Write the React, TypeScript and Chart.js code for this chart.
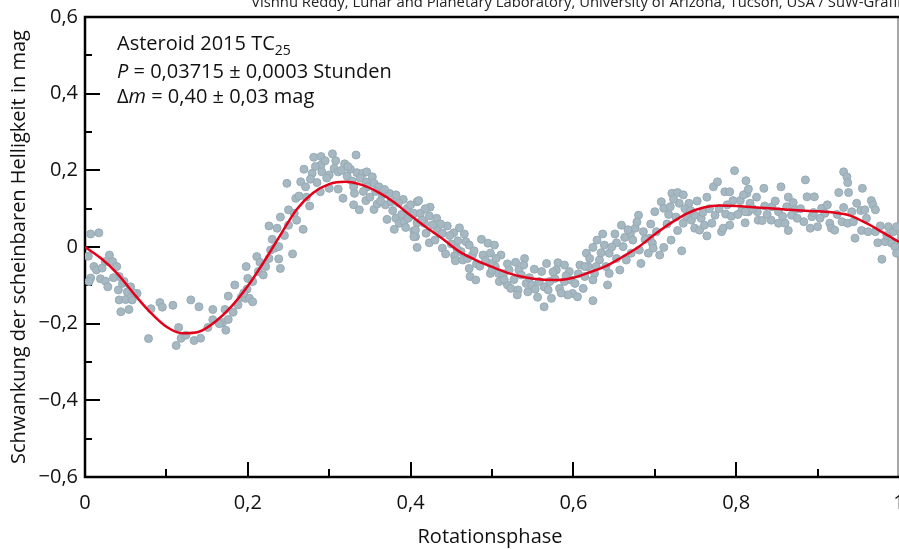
import { useEffect, useRef } from "react";
import { Chart, registerables } from "chart.js";

Chart.register(...registerables);

// Measured points: rotation phase and brightness variation (mag)
const phase = [
  0.007, 0.017, 0.004, 0.011, 0.014, 0.007, 0.005, 0.03, 0.025, 0.034, 0.021, 0.039, 0.019, 0.025, 0.028, 0.042, 0.046, 0.041, 0.056, 0.052,
  0.064, 0.042, 0.05, 0.058, 0.044, 0.054, 0.081, 0.092, 0.095, 0.108, 0.078, 0.115, 0.118, 0.112, 0.124, 0.13, 0.14, 0.134, 0.142, 0.151,
  0.157, 0.157, 0.169, 0.173, 0.176, 0.172, 0.176, 0.184, 0.188, 0.192, 0.199, 0.197, 0.202, 0.198, 0.2, 0.206, 0.206,
  0.211, 0.213, 0.219, 0.222, 0.226, 0.228, 0.233, 0.238, 0.238, 0.24, 0.255, 0.226, 0.236, 0.24, 0.25, 0.25, 0.257, 0.259, 0.263, 0.248,
  0.268, 0.276, 0.269, 0.265, 0.271, 0.279, 0.281, 0.29, 0.29, 0.304, 0.291, 0.277, 0.285, 0.289, 0.3, 0.306, 0.311, 0.3, 0.311, 0.319,
  0.322, 0.317, 0.326, 0.333, 0.334, 0.33, 0.331, 0.33, 0.337, 0.341, 0.346, 0.345, 0.353, 0.347, 0.345, 0.355, 0.361, 0.355, 0.359, 0.369,
  0.365, 0.374, 0.382, 0.391, 0.371, 0.382, 0.386, 0.38, 0.392, 0.394, 0.396, 0.402, 0.404, 0.406, 0.408, 0.408, 0.408,
  0.41, 0.424, 0.404, 0.412, 0.423, 0.417, 0.406, 0.404, 0.419, 0.423, 0.433, 0.445, 0.439, 0.43, 0.439, 0.443, 0.453, 0.458, 0.466, 0.468,
  0.472, 0.454, 0.455, 0.464, 0.462, 0.476, 0.487, 0.495, 0.503, 0.489, 0.498, 0.504, 0.472, 0.473, 0.48, 0.481, 0.498, 0.498, 0.511, 0.519,
  0.521, 0.508, 0.514, 0.509, 0.519, 0.523, 0.532, 0.531, 0.533, 0.54, 0.539, 0.536, 0.542, 0.544, 0.549, 0.552, 0.556, 0.561, 0.567, 0.564,
  0.569, 0.573, 0.564, 0.581, 0.579, 0.577, 0.583, 0.589, 0.589, 0.595, 0.597, 0.599, 0.593, 0.608, 0.605, 0.612, 0.614, 0.616, 0.618,
  0.624, 0.629, 0.636, 0.651, 0.659, 0.653, 0.644, 0.632, 0.614, 0.626, 0.624, 0.628, 0.64, 0.644, 0.642, 0.657, 0.653, 0.665, 0.671, 0.67,
  0.676, 0.68, 0.673, 0.661, 0.681, 0.683, 0.692, 0.694, 0.686, 0.695, 0.697, 0.698, 0.706, 0.711, 0.7, 0.708, 0.711, 0.721, 0.719, 0.72,
  0.726, 0.728, 0.73, 0.735, 0.733, 0.728, 0.735, 0.739, 0.742, 0.745, 0.749, 0.749, 0.755, 0.757, 0.764, 0.764, 0.761, 0.77, 0.774, 0.772,
  0.777, 0.782, 0.784, 0.786, 0.792, 0.792, 0.787, 0.798, 0.796, 0.805, 0.811, 0.812, 0.813, 0.815, 0.807, 0.624,
  0.809, 0.815, 0.817, 0.811, 0.825, 0.826, 0.827, 0.834, 0.835, 0.832, 0.843, 0.844, 0.852, 0.852, 0.855, 0.86, 0.864, 0.864, 0.862, 0.87,
  0.872, 0.868, 0.883, 0.885, 0.887, 0.891, 0.893, 0.896, 0.9, 0.905, 0.909, 0.915, 0.917, 0.921, 0.926, 0.932, 0.936, 0.937, 0.938, 0.932,
  0.93, 0.937, 0.942, 0.944, 0.946, 0.948, 0.955, 0.953, 0.954, 0.958, 0.962, 0.966, 0.968, 0.971, 0.971, 0.974, 0.977, 0.979, 0.983, 0.987,
  0.991, 0.993, 0.995, 0.997, 0.997,
  0.283, 0.295, 0.297, 0.308, 0.315, 0.323, 0.328, 0.338, 0.342, 0.35, 0.357, 0.363, 0.368, 0.376, 0.378, 0.385, 0.389, 0.397, 0.4, 0.414,
  0.418, 0.427, 0.432, 0.437, 0.448, 0.45, 0.457, 0.46, 0.47, 0.478, 0.485, 0.492, 0.5, 0.505, 0.515, 0.527, 0.529, 0.546, 0.553, 0.558,
  0.571, 0.575, 0.585, 0.591, 0.602, 0.606, 0.62, 0.634, 0.638, 0.647, 0.663, 0.667, 0.678, 0.688, 0.702, 0.715, 0.717, 0.723, 0.737, 0.744,
  0.752, 0.759, 0.767, 0.779, 0.789, 0.794, 0.802, 0.82, 0.838, 0.848, 0.857, 0.875, 0.879, 0.895, 0.903, 0.912, 0.924, 0.96, 0.985, 0.035,
  0.048, 0.06, 0.165, 0.182, 0.195, 0.215, 0.23, 0.245, 0.26, 0.272,
];
const mag = [
  0.034, 0.037, -0.024, -0.051, -0.06, -0.081, -0.09, -0.021, -0.038, -0.038, -0.055, -0.051, -0.083, -0.089, -0.104, -0.077, -0.095, -0.112, -0.104, -0.117,
  -0.121, -0.138, -0.137, -0.138, -0.169, -0.163, -0.161, -0.145, -0.157, -0.152, -0.239, -0.21, -0.238, -0.257, -0.23, -0.138, -0.156, -0.244, -0.238, -0.21,
  -0.163, -0.19, -0.197, -0.217, -0.189, -0.163, -0.128, -0.099, -0.151, -0.131, -0.11, -0.134, -0.134, -0.051, -0.082, -0.143, -0.09,
  -0.025, -0.064, -0.073, -0.051, -0.03, -0.008, -0.003, 0.001, -0.031, -0.056, -0.018, 0.055, 0.049, 0.078, 0.097, 0.057, 0.088, 0.127, 0.133, 0.166,
  0.046, 0.107, 0.203, 0.17, 0.157, 0.192, 0.234, 0.236, 0.214, 0.243, 0.196, 0.177, 0.168, 0.144, 0.188, 0.205, 0.196, 0.153, 0.151, 0.217,
  0.185, 0.127, 0.203, 0.24, 0.194, 0.157, 0.14, 0.11, 0.097, 0.192, 0.196, 0.17, 0.183, 0.157, 0.121, 0.166, 0.157, 0.098, 0.112, 0.11,
  0.136, 0.14, 0.136, 0.124, 0.072, 0.075, 0.062, 0.046, 0.066, 0.051, 0.101, 0.083, 0.042, 0.027, -0.001, 0.118, 0.063,
  0.121, 0.104, 0.088, 0.088, 0.081, 0.062, 0.044, 0.027, 0.036, 0.011, 0.046, 0.055, 0.036, 0.018, -0.003, -0.018, 0.037, 0.016, 0.034, 0.014,
  0.005, -0.023, -0.036, -0.034, -0.012, -0.021, 0.02, 0.01, 0.005, -0.021, -0.016, -0.051, -0.056, -0.077, -0.086, -0.044, -0.043, -0.069, -0.021, -0.044,
  -0.06, -0.069, -0.07, -0.09, -0.099, -0.108, -0.112, -0.125, -0.06, -0.03, -0.047, -0.073, -0.095, -0.117, -0.099, -0.058, -0.131, -0.064, -0.043, -0.104,
  -0.112, -0.134, -0.156, -0.041, -0.06, -0.082, -0.108, -0.09, -0.047, -0.064, -0.086, -0.121, -0.125, -0.047, -0.13, -0.108, -0.077, -0.016, -0.051,
  -0.001, 0.018, 0.034, 0.034, 0.057, 0.011, -0.016, -0.034, -0.051, -0.069, -0.086, -0.051, -0.051, -0.069, -0.099, -0.06, -0.03, -0.034, -0.016, 0.034,
  0.049, 0.083, 0.018, 0.001, -0.008, -0.043, -0.016, 0.023, 0.04, 0.06, 0.01, -0.003, -0.021, -0.001, 0.092, 0.118, 0.101, 0.14, 0.105, 0.018,
  0.078, 0.142, 0.114, 0.136, -0.01, 0.043, 0.062, 0.079, 0.114, 0.07, 0.049, 0.083, 0.044, 0.075, 0.13, 0.029, 0.057, 0.062, 0.083, 0.157,
  0.17, 0.04, 0.049, 0.144, 0.144, 0.057, 0.086, 0.199, 0.121, 0.121, 0.063, 0.173, 0.14, 0.092, 0.097, -0.14,
  0.136, 0.151, 0.114, 0.092, 0.13, 0.092, 0.07, 0.153, 0.107, 0.069, 0.07, 0.105, 0.092, 0.062, 0.157, 0.062, 0.13, 0.043, 0.105, 0.116,
  0.097, 0.083, 0.066, 0.175, 0.131, 0.049, 0.079, 0.131, 0.053, 0.101, 0.088, 0.062, 0.049, 0.044, 0.142, 0.196, 0.183, 0.168, 0.142, 0.103,
  0.066, 0.062, 0.092, 0.066, 0.023, 0.114, 0.153, 0.095, 0.043, 0.097, 0.04, 0.121, 0.11, 0.097, 0.04, 0.011, 0.055, -0.032, 0.014, 0.053,
  0.01, 0.04, 0.001, -0.016, 0.053,
  0.21, 0.225, 0.18, 0.225, 0.2, 0.21, 0.172, 0.18, 0.145, 0.13, 0.145, 0.12, 0.15, 0.118, 0.095, 0.115, 0.085, 0.075, 0.11, 0.07,
  0.1, 0.058, 0.075, 0.06, 0.03, 0.008, -0.005, 0.05, -0.03, -0.01, -0.05, -0.035, -0.06, -0.03, -0.085, -0.085, -0.04, -0.08, -0.11, -0.09,
  -0.09, -0.065, -0.12, -0.075, -0.095, -0.07, -0.03, -0.015, 0.005, 0.0, 0.025, 0.045, 0.065, 0.02, 0.04, 0.06, 0.085, 0.125, 0.1, 0.095,
  0.12, 0.09, 0.1, 0.1, 0.11, 0.08, 0.085, 0.1, 0.085, 0.12, 0.08, 0.075, 0.1, 0.09, 0.075, 0.11, 0.085, 0.075, 0.03, -0.08,
  -0.09, -0.12, -0.2, -0.17, -0.12, -0.04, 0.02, 0.03, 0.07, 0.13,
];

// Fitted light curve
const fitPhase = [
  0, 0.02, 0.04, 0.06, 0.08, 0.1, 0.12, 0.14, 0.16, 0.18, 0.2, 0.22, 0.24, 0.26, 0.28, 0.3, 0.32, 0.34, 0.36, 0.38,
  0.4, 0.42, 0.44, 0.46, 0.48, 0.5, 0.52, 0.54, 0.56, 0.58, 0.6, 0.62, 0.64, 0.66, 0.68, 0.7, 0.72, 0.74, 0.76, 0.78,
  0.8, 0.82, 0.84, 0.86, 0.88, 0.9, 0.92, 0.94, 0.96, 0.98, 1.0,
];
const fitMag = [
  0.0, -0.03, -0.07, -0.122, -0.17, -0.208, -0.225, -0.221, -0.195, -0.155, -0.102, -0.038, 0.031, 0.098, 0.141, 0.164, 0.17, 0.162, 0.143, 0.116,
  0.082, 0.05, 0.02, -0.012, -0.034, -0.052, -0.068, -0.079, -0.085, -0.086, -0.08, -0.066, -0.05, -0.026, 0.0, 0.033, 0.063, 0.088, 0.103, 0.108,
  0.107, 0.104, 0.101, 0.098, 0.095, 0.093, 0.09, 0.082, 0.062, 0.038, 0.013,
];

const xTickValues = [0, 0.2, 0.4, 0.6, 0.8, 1];
const xTickLabels = ["0", "0,2", "0,4", "0,6", "0,8", "1"];
const xMinorValues = [0.1, 0.3, 0.5, 0.7, 0.9];
const yTickValues = [0.6, 0.4, 0.2, 0, -0.2, -0.4, -0.6];
const yTickLabels = ["0,6", "0,4", "0,2", "0", "\u22120,2", "\u22120,4", "\u22120,6"];
const yMinorValues = [0.5, 0.3, 0.1, -0.1, -0.3, -0.5];

const xTitle = "Rotationsphase";
const yTitle = "Schwankung der scheinbaren Helligkeit in mag";
const credit = "Vishnu Reddy, Lunar and Planetary Laboratory, University of Arizona, Tucson, USA / SuW-Grafik";

const FONT = '"Open Sans", "DejaVu Sans", sans-serif';

const framePlugin = {
  id: "frame",
  beforeDatasetsDraw(chart: any) {
    const { ctx, chartArea } = chart;
    const { left, top, bottom } = chartArea;
    const xs = chart.scales.x;
    const ys = chart.scales.y;
    ctx.save();
    // right edge line (grey)
    ctx.strokeStyle = "#8a8a8a";
    ctx.lineWidth = 1.5;
    ctx.beginPath();
    ctx.moveTo(898, top);
    ctx.lineTo(898, bottom);
    ctx.stroke();
    // black frame
    ctx.strokeStyle = "#000";
    ctx.lineWidth = 2.5;
    ctx.beginPath();
    ctx.moveTo(899, top);
    ctx.lineTo(left, top);
    ctx.lineTo(left, bottom);
    ctx.lineTo(899, bottom);
    ctx.stroke();
    // ticks (inward)
    ctx.lineWidth = 2;
    ctx.beginPath();
    yTickValues.forEach((v) => {
      if (v === 0.6 || v === -0.6) return;
      const py = Math.round(ys.getPixelForValue(v));
      ctx.moveTo(left, py);
      ctx.lineTo(left + 15, py);
    });
    yMinorValues.forEach((v) => {
      const py = Math.round(ys.getPixelForValue(v));
      ctx.moveTo(left, py);
      ctx.lineTo(left + 7, py);
    });
    xTickValues.forEach((v) => {
      if (v === 0 || v === 1) return;
      const px = Math.round(xs.getPixelForValue(v));
      ctx.moveTo(px, bottom);
      ctx.lineTo(px, bottom - 15);
    });
    xMinorValues.forEach((v) => {
      const px = Math.round(xs.getPixelForValue(v));
      ctx.moveTo(px, bottom);
      ctx.lineTo(px, bottom - 8);
    });
    ctx.stroke();
    ctx.restore();
  },
  afterDraw(chart: any) {
    const { ctx, chartArea } = chart;
    const { left, top, right, bottom } = chartArea;
    const xs = chart.scales.x;
    const ys = chart.scales.y;
    ctx.save();
    ctx.fillStyle = "#111";
    // tick labels
    ctx.font = `20px ${FONT}`;
    ctx.textAlign = "right";
    ctx.textBaseline = "middle";
    yTickValues.forEach((v, i) => {
      ctx.fillText(yTickLabels[i], left - 7, ys.getPixelForValue(v));
    });
    ctx.textAlign = "center";
    ctx.textBaseline = "middle";
    xTickValues.forEach((v, i) => {
      ctx.fillText(xTickLabels[i], xs.getPixelForValue(v), bottom + 26);
    });
    // axis titles
    ctx.fillText(xTitle, (left + right) / 2 - 2, bottom + 60);
    ctx.save();
    ctx.translate(19, (top + bottom) / 2);
    ctx.rotate(-Math.PI / 2);
    ctx.fillText(yTitle, 0, 0);
    ctx.restore();
    // credit line (partly cut at the top)
    ctx.font = `14.8px ${FONT}`;
    ctx.textAlign = "right";
    ctx.textBaseline = "alphabetic";
    ctx.fillStyle = "#222";
    ctx.fillText(credit, 905, 7);
    // annotation
    ctx.fillStyle = "#111";
    ctx.textAlign = "left";
    const x0 = left + 32;
    ctx.font = `20px ${FONT}`;
    const l1 = "Asteroid 2015 TC";
    ctx.fillText(l1, x0, 50);
    const w1 = ctx.measureText(l1).width;
    ctx.font = `14px ${FONT}`;
    ctx.fillText("25", x0 + w1, 55);
    // line 2
    ctx.font = `italic 20px ${FONT}`;
    ctx.fillText("P", x0, 78);
    let w = ctx.measureText("P").width;
    ctx.font = `20px ${FONT}`;
    ctx.fillText(" = 0,03715 \u00b1 0,0003 Stunden", x0 + w, 78);
    // line 3
    ctx.fillText("\u0394", x0, 103);
    w = ctx.measureText("\u0394").width;
    ctx.font = `italic 20px ${FONT}`;
    ctx.fillText("m", x0 + w, 103);
    w += ctx.measureText("m").width;
    ctx.font = `20px ${FONT}`;
    ctx.fillText(" = 0,40 \u00b1 0,03 mag", x0 + w, 103);
    ctx.restore();
  },
};

export default function App() {
  const ref = useRef<HTMLCanvasElement | null>(null);
  useEffect(() => {
    if (!ref.current) return;
    const chart = new Chart(ref.current, {
      type: "scatter",
      data: {
        datasets: [
          {
            type: "line",
            data: fitPhase.map((p, i) => ({ x: p, y: fitMag[i] })),
            borderColor: "#e3001b",
            borderWidth: 2.5,
            pointRadius: 0,
            fill: false,
            cubicInterpolationMode: "monotone",
            order: 0,
          } as any,
          {
            type: "scatter",
            data: phase.map((p, i) => ({ x: p, y: mag[i] })),
            backgroundColor: "#a6b8c1",
            borderColor: "#97abb5",
            borderWidth: 1,
            pointRadius: 4,
            order: 1,
          } as any,
        ],
      },
      options: {
        responsive: false,
        animation: false,
        devicePixelRatio: 1,
        events: [],
        layout: { autoPadding: false, padding: { left: 85, top: 17, right: -1, bottom: 72 } },
        plugins: { legend: { display: false }, tooltip: { enabled: false } },
        scales: {
          x: { type: "linear", min: 0, max: 1, display: false },
          y: { type: "linear", min: -0.6, max: 0.6, display: false },
        },
      },
      plugins: [framePlugin],
    });
    return () => chart.destroy();
  }, []);
  return (
    <div style={{ position: "absolute", left: 0, top: 0, width: 899, height: 549, background: "#fff" }}>
      <canvas ref={ref} width={899} height={549} />
    </div>
  );
}
